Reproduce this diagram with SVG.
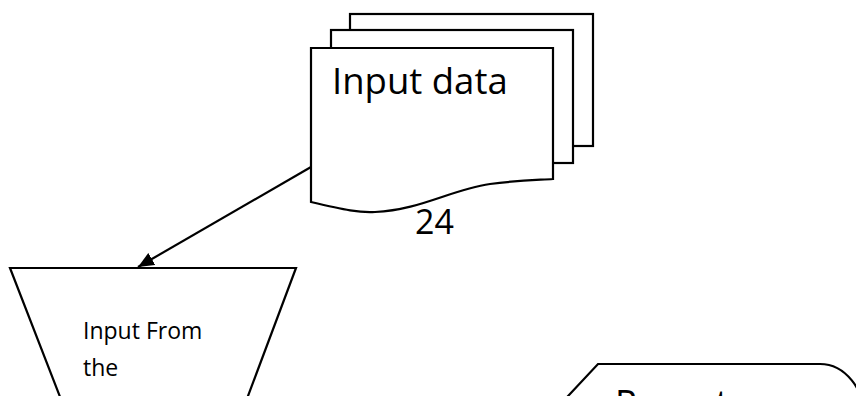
<svg xmlns="http://www.w3.org/2000/svg" width="856" height="396" viewBox="0 0 856 396">
  <style>
    .shape { fill: #ffffff; stroke: #000000; stroke-width: 2.2; }
    .txt { font-family: "Open Sans", "Liberation Sans", sans-serif; fill: #000000; }
    .conn { stroke: #000000; stroke-width: 2.2; fill: none; }
  </style>
  <defs>
    <marker id="arrow" markerUnits="userSpaceOnUse" markerWidth="18" markerHeight="16" refX="16" refY="7" orient="auto">
      <path d="M0,0 L16,7 L0,14 Z" fill="#000000"/>
    </marker>
  </defs>
  <rect width="856" height="396" fill="#ffffff"/>

  <g id="input-data">
    <rect class="shape" x="350" y="14" width="243" height="132"/>
    <rect class="shape" x="331" y="30" width="242" height="133"/>
    <path class="shape" d="M311,48 H553 V179 C540,180 520,180 490,184 C450,190 420,210 375,212 C360,213 345,210 311,202 Z"/>
    <text class="txt" x="332" y="94" font-size="36.5">Input data</text>
    <text class="txt" x="415" y="234" font-size="34">24</text>
  </g>

  <g id="connectors">
    <line class="conn" x1="311" y1="167" x2="138" y2="267" marker-end="url(#arrow)"/>
  </g>

  <g id="manual-input">
    <polygon class="shape" points="10,268 296,268 239,420 69,420"/>
    <text class="txt" x="83" y="339" font-size="23">Input From</text>
    <text class="txt" x="83" y="376" font-size="23">the</text>
  </g>

  <g id="report">
    <path class="shape" d="M555,410 L598,364 H820 A45,56 0 0 1 865,420 L555,420 Z"/>
    <text class="txt" x="615" y="416" font-size="36">Report</text>
  </g>
</svg>
